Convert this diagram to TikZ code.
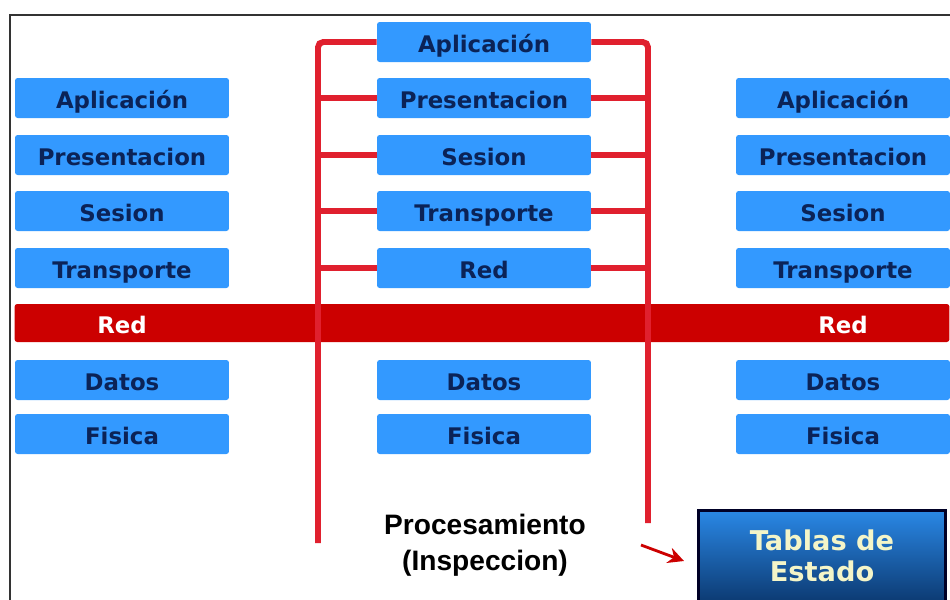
\documentclass[tikz,border=0pt]{standalone}
\usepackage{fontspec}
\usetikzlibrary{positioning,arrows.meta}
\newfontfamily\layerfont{DejaVu Sans}
\newfontfamily\procfont{Liberation Sans}
\definecolor{layerblue}{HTML}{3399FF}
\definecolor{layertext}{HTML}{0B2357}
\definecolor{netred}{HTML}{CC0000}
\definecolor{wirered}{HTML}{E0202E}
\definecolor{tabtop}{HTML}{2A88E6}
\definecolor{tabbot}{HTML}{0C3A72}
\definecolor{tabtext}{HTML}{F4F5C8}
\definecolor{framegray}{HTML}{333333}
\tikzset{
  layer/.style={fill=layerblue, rounded corners=1.5pt, minimum width=4.28cm,
    minimum height=0.8cm, inner sep=0pt, text=layertext,
    text height=12pt, text depth=0pt,
    font=\layerfont\bfseries\fontsize{13}{15}\selectfont},
  netbar/.style={fill=netred, rounded corners=1.5pt, minimum width=18.7cm,
    minimum height=0.76cm, inner sep=0pt},
  redlabel/.style={text=white, inner sep=0pt, text height=12pt, text depth=0pt,
    font=\layerfont\bfseries\fontsize{13}{15}\selectfont},
  wire/.style={draw=wirered, line width=3.4pt},
  tabla/.style={draw=black!85!blue, line width=1.7pt, top color=tabtop,
    bottom color=tabbot, minimum width=4.96cm, minimum height=1.84cm,
    align=center, text=tabtext,
    font=\layerfont\bfseries\fontsize{15.5}{18}\selectfont},
}

\begin{document}
\begin{tikzpicture}[x=0.02cm, y=-0.02cm]
  \useasboundingbox (0,0) rectangle (950,599);
  \clip (0,0) rectangle (950,599);

  % frame
  \draw[framegray, line width=1.2pt] (10,610) -- (10,15) -- (960,15);

  % red network band
  \node[netbar] (bar) at (482,323) {};
  \node[redlabel] (lred) at (122,323) {Red};
  \node[redlabel] (rred) at (843,323) {Red};

  % left and right stacks
  \foreach \id/\lab/\y in {a/Aplicación/98, p/Presentacion/155,
      s/Sesion/211, t/Transporte/268, d/Datos/380, f/Fisica/434} {
    \node[layer] (l\id) at (122,\y) {\lab};
    \node[layer] (r\id) at (843,\y) {\lab};
  }

  % middle stack
  \foreach \id/\lab/\y in {ma/Aplicación/42, mp/Presentacion/98,
      ms/Sesion/155, mt/Transporte/211, mr/Red/268,
      md/Datos/380, mf/Fisica/434} {
    \node[layer] (\id) at (484,\y) {\lab};
  }

  % inspection wires
  \coordinate (lend) at (318,543);
  \coordinate (rend) at (648,523);
  \draw[wire, rounded corners=3pt] (lend) |- (ma.west);
  \draw[wire, rounded corners=3pt] (rend) |- (ma.east);
  \foreach \id in {mp,ms,mt,mr} {
    \draw[wire] (\id.west) -- (\id.west -| lend);
    \draw[wire] (\id.east) -- (\id.east -| rend);
  }

  % processing and state tables
  \node[align=center, font=\procfont\bfseries\fontsize{16}{20.5}\selectfont]
    (proc) at (485,545) {Procesamiento\\(Inspeccion)};
  \node[tabla] (tab) at (822,556) {Tablas de\\Estado};
  \coordinate (atail) at (641,545);
  \coordinate (ahead) at (684,561);
  \draw[netred, line width=1.6pt, -{Stealth[length=9pt, width=9pt]}]
    (atail) -- (ahead);
\end{tikzpicture}
\end{document}
